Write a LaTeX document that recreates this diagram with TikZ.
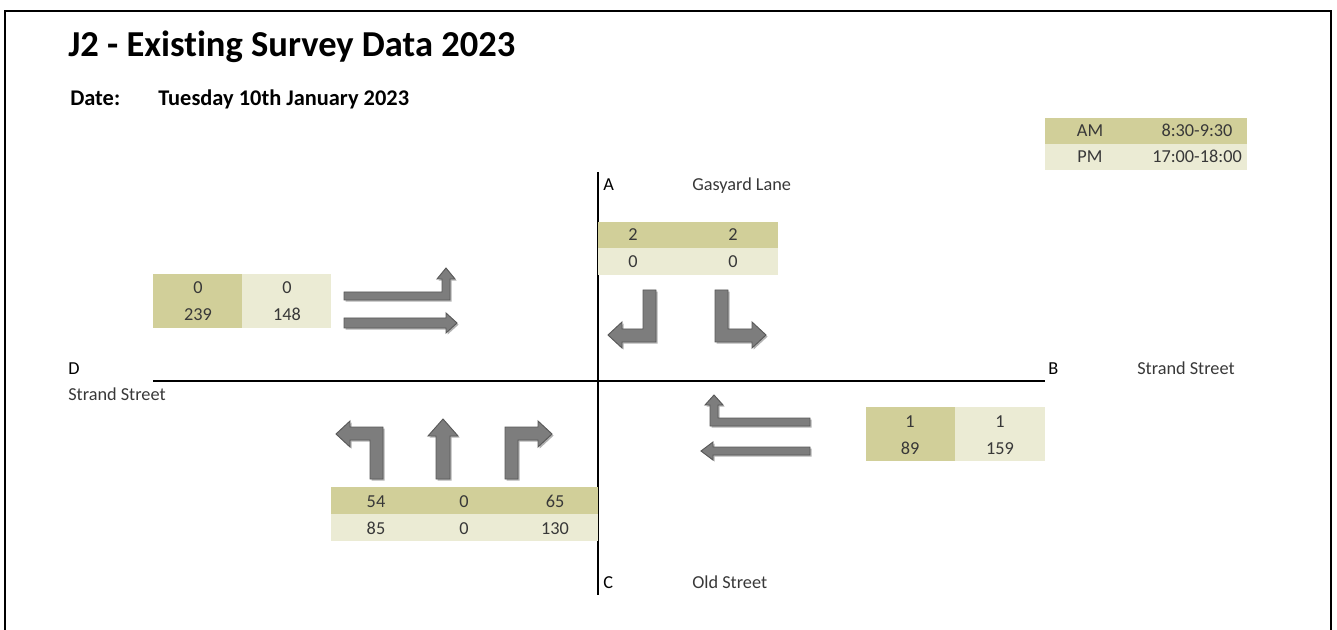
\documentclass[tikz,border=0pt]{standalone}
\usepackage{fontspec}
\setmainfont{Carlito}[Ligatures=NoCommon]
\usetikzlibrary{shadows}
\definecolor{amfill}{RGB}{209,207,153}
\definecolor{pmfill}{RGB}{235,235,212}
\definecolor{arrowgrey}{RGB}{125,125,125}
\definecolor{labelgrey}{RGB}{56,56,56}

\begin{document}
\begin{tikzpicture}[x=0.75pt, y=-0.75pt,
  lbl/.style={font=\fontsize{13.7}{16}\selectfont, text=labelgrey, inner sep=0pt, anchor=base west},
  val/.style={lbl, anchor=base},
  leg/.style={font=\fontsize{13.7}{16}\selectfont, text=labelgrey, inner sep=0pt, anchor=base},
  road/.style={draw=black, line width=0.9pt},
  turn/.style={fill=arrowgrey, draw=black!65, line width=0.7pt, line join=miter,
    drop shadow={shadow xshift=1.2pt, shadow yshift=-1.2pt, opacity=0.3, fill=black}}
]
\useasboundingbox (0,0) rectangle (1337,630);
\draw[line width=1.4pt] (5,630) -- (5,11) -- (1331,11) -- (1331,630);

% heading
\node[font=\fontsize{27.4}{32}\selectfont\bfseries, inner sep=0pt, anchor=base west] (title) at (68,57) {J2 - Existing Survey Data 2023};
\node[font=\fontsize{16.8}{20}\selectfont\bfseries, inner sep=0pt, anchor=base west] (datelbl) at (70,106) {Date:};
\node[font=\fontsize{16.8}{20}\selectfont\bfseries, inner sep=0pt, anchor=base west] (dateval) at (158,106) {Tuesday 10th January 2023};

% period key
\fill[amfill] (1045,118) rectangle (1247,144);
\fill[pmfill] (1045,144) rectangle (1247,170);
\node[leg] (amlbl) at (1090,137) {AM};
\node[leg] (amtime) at (1197,137) {8:30-9:30};
\node[leg] (pmlbl) at (1090,163) {PM};
\node[leg] (pmtime) at (1197,163) {17:00-18:00};

% roads
\coordinate (armA) at (598,172);
\coordinate (armC) at (598,595);
\coordinate (armD) at (153,381);
\coordinate (armB) at (1045,381);
\draw[road] (armA) -- (armC);
\draw[road] (armD) -- (armB);

\node[lbl, text=black] (A) at (603,191) {A};
\node[lbl] (Aname) at (692,191) {Gasyard Lane};
\node[lbl, text=black] (B) at (1048,375) {B};
\node[lbl] (Bname) at (1137,375) {Strand Street};
\node[lbl, text=black] (D) at (68,375) {D};
\node[lbl] (Dname) at (68,401) {Strand Street};
\node[lbl, text=black] (C) at (603,588) {C};
\node[lbl] (Cname) at (692,588) {Old Street};

% arm A counts
\fill[amfill] (598,222) rectangle (778,248);
\fill[pmfill] (598,248) rectangle (778,275);
\node[val] (a1am) at (633,241) {2};
\node[val] (a2am) at (733,241) {2};
\node[val] (a1pm) at (633,268) {0};
\node[val] (a2pm) at (733,268) {0};

% arm D counts
\fill[amfill] (153,274) rectangle (242,328);
\fill[pmfill] (242,274) rectangle (331,328);
\node[val] (d1am) at (198,294) {0};
\node[val] (d1pm) at (287,294) {0};
\node[val] (d2am) at (198,321) {239};
\node[val] (d2pm) at (287,321) {148};

% arm B counts
\fill[amfill] (866,407) rectangle (955,461);
\fill[pmfill] (955,407) rectangle (1045,461);
\node[val] (b1am) at (910,427) {1};
\node[val] (b1pm) at (1000,427) {1};
\node[val] (b2am) at (910,454) {89};
\node[val] (b2pm) at (1000,454) {159};

% arm C counts
\fill[amfill] (331,487) rectangle (598,514);
\fill[pmfill] (331,514) rectangle (598,541);
\node[val] (c1am) at (376,507) {54};
\node[val] (c2am) at (464,507) {0};
\node[val] (c3am) at (555,507) {65};
\node[val] (c1pm) at (376,534) {85};
\node[val] (c2pm) at (464,534) {0};
\node[val] (c3pm) at (555,534) {130};

% movement arrows, arm D
\path[turn] (344,292) -- (442,292) -- (442,279) -- (437,279) -- (446,268) -- (455,279)
  -- (450,279) -- (450,300) -- (344,300) -- cycle;
\path[turn] (344,318) -- (446,318) -- (446,313) -- (457,323) -- (446,333) -- (446,328)
  -- (344,328) -- cycle;

% movement arrows, arm A
\path[turn] (643,290) -- (656,290) -- (656,342) -- (622,342) -- (622,348) -- (608,335)
  -- (622,322) -- (622,329) -- (643,329) -- cycle;
\path[turn] (715,290) -- (728,290) -- (728,329) -- (752,329) -- (752,322) -- (766,335)
  -- (752,348) -- (752,342) -- (715,342) -- cycle;

% movement arrows, arm B
\path[turn] (810,418) -- (718,418) -- (718,405) -- (723,405) -- (714,395) -- (705,405)
  -- (710,405) -- (710,426) -- (810,426) -- cycle;
\path[turn] (810,447) -- (713,447) -- (713,442) -- (701,451) -- (713,460) -- (713,455)
  -- (810,455) -- cycle;

% movement arrows, arm C
\path[turn] (383,479) -- (370,479) -- (370,440) -- (350,440) -- (350,447) -- (336,434)
  -- (350,421) -- (350,427) -- (383,427) -- cycle;
\path[turn] (436,479) -- (450,479) -- (450,436) -- (458,436) -- (443,419) -- (428,436)
  -- (436,436) -- cycle;
\path[turn] (505,479) -- (518,479) -- (518,440) -- (538,440) -- (538,447) -- (552,434)
  -- (538,421) -- (538,427) -- (505,427) -- cycle;
\end{tikzpicture}
\end{document}
